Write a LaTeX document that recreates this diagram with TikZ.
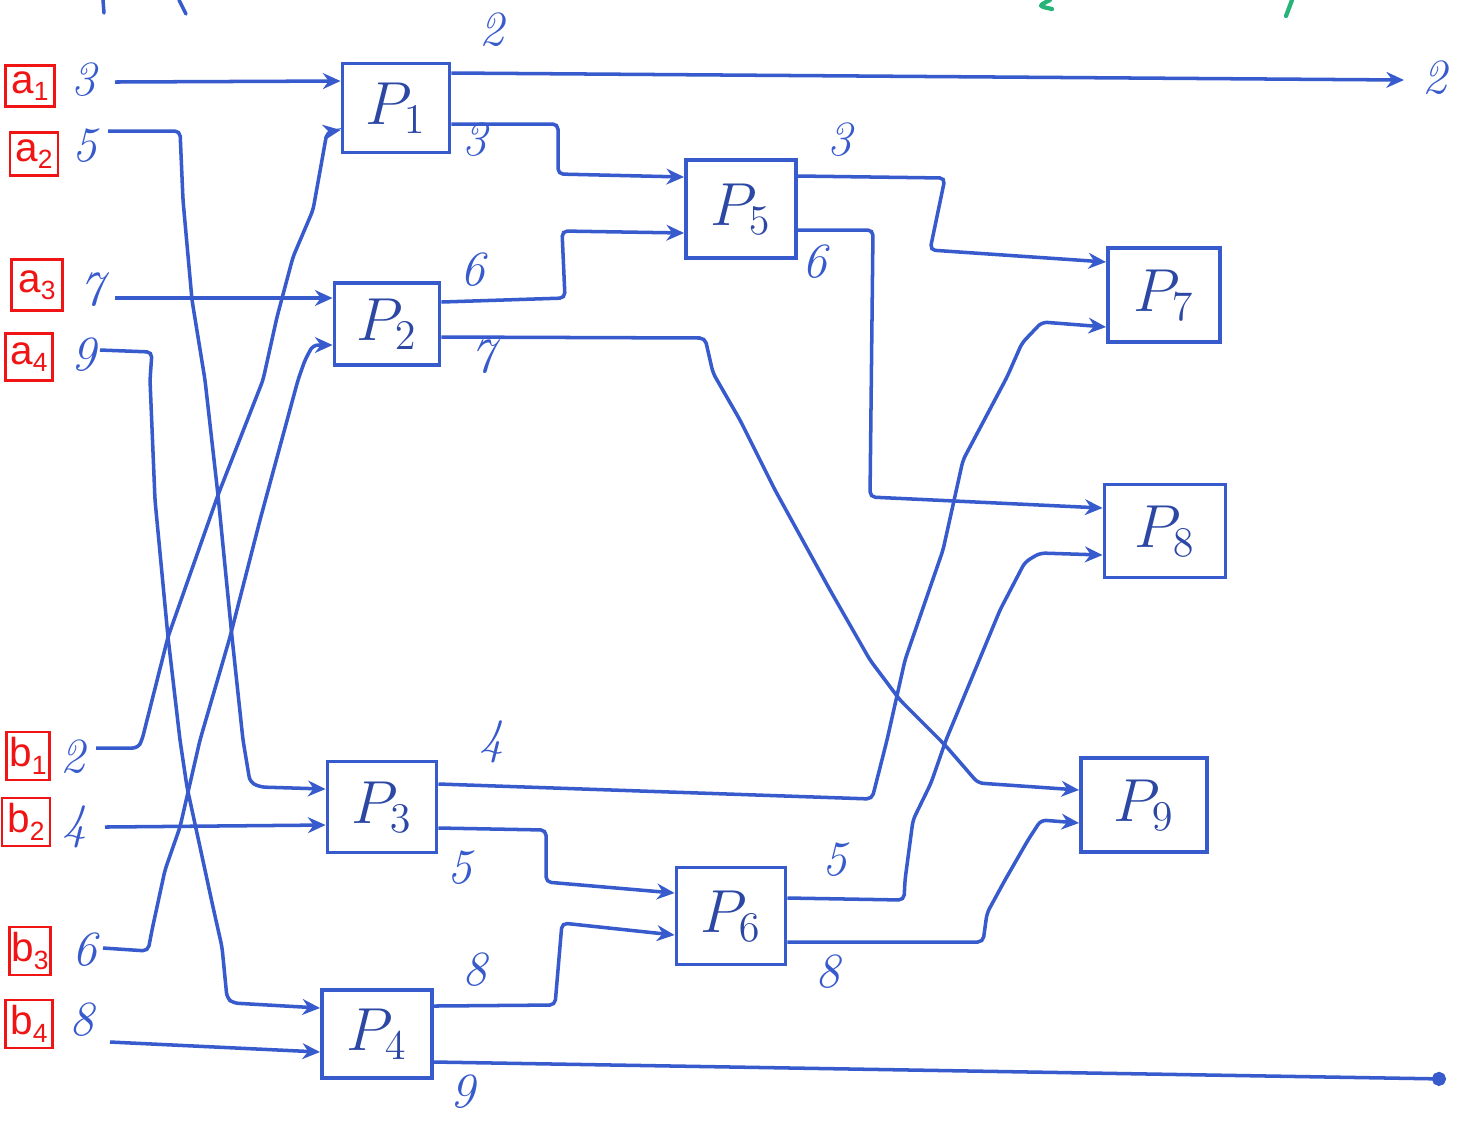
\documentclass[tikz,border=0pt]{standalone}
\usepackage{fontspec}
\newfontfamily\labelfont{Liberation Sans}
\usetikzlibrary{arrows.meta}
\definecolor{penblue}{RGB}{55,90,205}
\definecolor{pengreen}{RGB}{40,180,120}
\definecolor{tagred}{RGB}{240,20,20}
\newcommand{\tagsub}[1]{\raisebox{-0.35ex}{\fontsize{7.5}{8}\selectfont #1}}
\begin{document}
\begin{tikzpicture}[x=0.01cm,y=-0.01cm,
  pbox/.style={draw=penblue,line width=1.1pt,text=penblue!80!black,
    font=\fontsize{18}{20}\selectfont},
  tag/.style={draw=tagred,line width=0.8pt,text=tagred,inner sep=0pt,
    font=\labelfont\fontsize{11.5}{12}\selectfont},
  num/.style={text=penblue,inner sep=1pt,font=\fontsize{14}{16}\selectfont\itshape},
  wire/.style={draw=penblue,line width=1pt,rounded corners=1.5pt},
  feed/.style={wire,-{Stealth[length=5pt,width=4.5pt]}},
  sink/.style={wire,-{Circle[length=4pt]}}]
\useasboundingbox[fill=white] (0,0) rectangle (1461,1123);

% strokes of the line above, cut at the edge
\draw[penblue,line width=1pt,line cap=round] (103,0) -- (104,13);
\draw[penblue,line width=1pt,line cap=round] (179,0) -- (186,14);
\draw[pengreen,line width=1.2pt,line cap=round] (1050,0) .. controls (1038,6) .. (1052,9);
\draw[pengreen,line width=1.2pt,line cap=round] (1292,0) -- (1286,16);

% input tags
\node[tag,minimum width=0.49cm,minimum height=0.41cm] (ta1) at (30,86)  {a\tagsub{1}};
\node[tag,minimum width=0.48cm,minimum height=0.43cm] (ta2) at (34,154) {a\tagsub{2}};
\node[tag,minimum width=0.51cm,minimum height=0.51cm] (ta3) at (37,285) {a\tagsub{3}};
\node[tag,minimum width=0.47cm,minimum height=0.47cm] (ta4) at (29,357) {a\tagsub{4}};
\node[tag,minimum width=0.43cm,minimum height=0.48cm] (tb1) at (28,756) {b\tagsub{1}};
\node[tag,minimum width=0.48cm,minimum height=0.48cm] (tb2) at (26,822) {b\tagsub{2}};
\node[tag,minimum width=0.41cm,minimum height=0.48cm] (tb3) at (30,951) {b\tagsub{3}};
\node[tag,minimum width=0.47cm,minimum height=0.48cm] (tb4) at (29,1024) {b\tagsub{4}};

% input values
\node[num] (na1) at (84,80)   {3};
\node[num] (na2) at (85,146)  {5};
\node[num] (na3) at (92,290)  {7};
\node[num] (na4) at (84,355)  {9};
\node[num] (nb1) at (73,757)  {2};
\node[num] (nb2) at (75,827)  {4};
\node[num] (nb3) at (85,950)  {6};
\node[num] (nb4) at (82,1020) {8};

% processors
\node[pbox,minimum width=1.07cm,minimum height=0.89cm] (p1) at (396,108)  {$P_1$};
\node[pbox,minimum width=1.05cm,minimum height=0.82cm] (p2) at (387,324)  {$P_2$};
\node[pbox,minimum width=1.09cm,minimum height=0.91cm] (p3) at (382,807)  {$P_3$};
\node[pbox,minimum width=1.10cm,minimum height=0.88cm] (p4) at (377,1034) {$P_4$};
\node[pbox,minimum width=1.10cm,minimum height=0.98cm] (p5) at (741,209)  {$P_5$};
\node[pbox,minimum width=1.09cm,minimum height=0.97cm] (p6) at (731,916)  {$P_6$};
\node[pbox,minimum width=1.12cm,minimum height=0.94cm] (p7) at (1164,295) {$P_7$};
\node[pbox,minimum width=1.21cm,minimum height=0.93cm] (p8) at (1165,531) {$P_8$};
\node[pbox,minimum width=1.26cm,minimum height=0.94cm] (p9) at (1144,805) {$P_9$};

% start points of the input wires
\coordinate (sa1) at (115,82);
\coordinate (sa2) at (108,131);
\coordinate (sa3) at (115,298);
\coordinate (sa4) at (100,350);
\coordinate (sb1) at (96,748);
\coordinate (sb2) at (105,827);
\coordinate (sb3) at (103,948);
\coordinate (sb4) at (110,1042);
% free ends of the outgoing wires
\coordinate (out1) at (1404,80);
\coordinate (out2) at (1446,1079);

% input wires
\draw[feed] (sa1) -- (p1.west |- 0,81);
\draw[feed] (sa2) -- (180,131) -- (183,200) -- (192,300) -- (205,380) -- (218,495)
  -- (232,637) -- (243,740) -- (250,782) -- (260,787) -- (p3.west |- 0,789);
\draw[feed] (sa3) -- (p2.west |- 0,298);
\draw[feed] (sa4) -- (152,352) -- (150,380) -- (155,500) -- (168,637) -- (180,740)
  -- (187,787) -- (213,907) -- (222,947) -- (227,998) -- (233,1003) -- (p4.west |- 0,1008);
\draw[feed] (sb1) -- (138,748) -- (142,740) -- (168,637) -- (218,495) -- (263,380)
  -- (277,317) -- (293,257) -- (313,210) -- (322,160) -- (327,132) -- (p1.west |- 0,130);
\draw[feed] (sb2) -- (p3.west |- 0,825);
\draw[feed] (sb3) -- (148,951) -- (152,930) -- (165,870) -- (180,827) -- (200,740)
  -- (230,637) -- (260,520) -- (298,380) -- (305,360) -- (313,345) -- (p2.west |- 0,345);
\draw[feed] (sb4) -- (p4.west |- 0,1052);

% links between processors
\draw[feed] (p1.east |- 0,73) -- (out1);
\draw[feed] (p1.east |- 0,124) -- (558,124) -- (558,174) -- (p5.west |- 0,177);
\draw[feed] (p2.east |- 0,302) -- (565,298) -- (562,231) -- (p5.west |- 0,233);
\draw[feed] (p2.east |- 0,337) -- (705,338) -- (713,373) -- (740,420) -- (775,490)
  -- (830,590) -- (870,660) -- (900,700) -- (945,745) -- (978,783) -- (p9.west |- 0,790);
\draw[feed] (p5.east |- 0,176) -- (945,178) -- (930,250) -- (p7.west |- 0,262);
\draw[feed] (p5.east |- 0,230) -- (873,230) -- (870,497) -- (p8.west |- 0,508);
\draw[feed] (p3.east |- 0,784) -- (872,799) -- (887,740) -- (905,660) -- (943,550)
  -- (963,460) -- (1007,377) -- (1022,343) -- (1042,322) -- (p7.west |- 0,327);
\draw[feed] (p3.east |- 0,828) -- (546,830) -- (546,882) -- (p6.west |- 0,893);
\draw[feed] (p4.east |- 0,1006) -- (555,1005) -- (562,923) -- (p6.west |- 0,935);
\draw[sink] (p4.east |- 0,1062) -- (out2);
\draw[feed] (p6.east |- 0,898) -- (904,900) -- (905,880) -- (913,820) -- (931,783)
  -- (946,740) -- (1000,610) -- (1025,562) -- (1040,553) -- (p8.west |- 0,555);
\draw[feed] (p6.east |- 0,942) -- (983,942) -- (987,913) -- (1005,880) -- (1028,840)
  -- (1041,820) -- (p9.west |- 0,823);

% values on the links
\node[num] (v1)  at (492,30)   {2};
\node[num] (v2)  at (475,140)  {3};
\node[num] (v3)  at (473,270)  {6};
\node[num] (v4)  at (483,357)  {7};
\node[num] (v5)  at (840,140)  {3};
\node[num] (v6)  at (815,262)  {6};
\node[num] (v7)  at (492,742)  {4};
\node[num] (v8)  at (460,868)  {5};
\node[num] (v9)  at (475,970)  {8};
\node[num] (v10) at (463,1092) {9};
\node[num] (v11) at (835,860)  {5};
\node[num] (v12) at (828,972)  {8};
\node[num] (v13) at (1435,78)  {2};
\end{tikzpicture}
\end{document}
